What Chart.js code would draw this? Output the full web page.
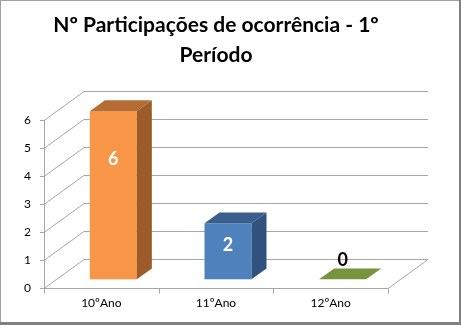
<!DOCTYPE html>
<html>
<head>
<meta charset="utf-8">
<script src="https://cdn.jsdelivr.net/npm/chart.js@4"></script>
<style>
  body { margin: 0; background: #fff; }
</style>
</head>
<body>
<canvas id="chart" width="461" height="325"></canvas>
<script>
const categories = ['10ºAno', '11ºAno', '12ºAno'];
const values = [6, 2, 0];
const yMin = 0;
const yMax = 6;
const yStep = 1;

const frontColors = ['#F79646', '#4F81BD', '#77933C'];
const topColors = ['#B66D35', '#3B5F8D', '#5F7C2E'];
const sideColors = ['#9B5B2A', '#30527C', '#4E6726'];

// depth of the 3d box (floor / walls), in px
const DX = 40;
const DY = -29;

const fakeDepth = {
    id: 'fakeDepth',
    beforeDraw(chart) {
        const ctx = chart.ctx;
        const w = chart.width, h = chart.height;
        ctx.save();
        ctx.fillStyle = '#fff';
        ctx.fillRect(0, 0, w, h);
        ctx.fillStyle = '#A0A0A0';
        ctx.fillRect(0, 0, w, 1);
        ctx.fillRect(0, 0, 1, h);
        ctx.fillStyle = '#808080';
        ctx.fillRect(w - 2, 0, 2, h);
        ctx.fillRect(0, h - 3, w, 3);
        ctx.restore();
    },
    beforeDatasetsDraw(chart) {
        const { ctx, scales: { x, y } } = chart;
        const L = x.left, R = x.right;
        const bottom = Math.round(y.getPixelForValue(yMin)) + 0.5;
        ctx.save();
        ctx.lineWidth = 1;
        ctx.strokeStyle = '#A6A6A6';
        for (let v = yMin; v <= yMax; v += yStep) {
            const py = Math.round(y.getPixelForValue(v)) + 0.5;
            ctx.beginPath();
            ctx.moveTo(L - 4, py);
            ctx.lineTo(L, py);
            ctx.lineTo(L + DX, py + DY);
            ctx.lineTo(R + DX, py + DY);
            ctx.stroke();
        }
        // front y axis
        ctx.beginPath();
        ctx.moveTo(L + 0.5, Math.round(y.getPixelForValue(yMax)));
        ctx.lineTo(L + 0.5, bottom);
        ctx.stroke();
        // floor front edge and right edge
        ctx.beginPath();
        ctx.moveTo(L, bottom);
        ctx.lineTo(R, bottom);
        ctx.lineTo(R + DX, bottom + DY);
        ctx.stroke();
        // category ticks
        const step = (R - L) / categories.length;
        for (let i = 0; i <= categories.length; i++) {
            const px = Math.round(L + step * i) + 0.5;
            ctx.beginPath();
            ctx.moveTo(px, bottom);
            ctx.lineTo(px, bottom + 5);
            ctx.stroke();
        }
        ctx.restore();
    },
    afterDatasetsDraw(chart) {
        const ctx = chart.ctx;
        const meta = chart.getDatasetMeta(0);
        const ox = DX * 0.3, oy = DY * 0.3;
        const bx = DX * 0.375, by = DY * 0.375;
        ctx.save();
        meta.data.forEach((bar, i) => {
            const x0 = bar.x - bar.width / 2 + ox;
            const x1 = bar.x + bar.width / 2 + ox;
            const top = bar.y + oy;
            const base = bar.base + oy;
            // front
            ctx.fillStyle = frontColors[i];
            ctx.fillRect(x0, top, x1 - x0, base - top);
            // side
            ctx.fillStyle = sideColors[i];
            ctx.beginPath();
            ctx.moveTo(x1, top);
            ctx.lineTo(x1 + bx, top + by);
            ctx.lineTo(x1 + bx, base + by);
            ctx.lineTo(x1, base);
            ctx.closePath();
            ctx.fill();
            // top
            ctx.fillStyle = values[i] === 0 ? frontColors[i] : topColors[i];
            ctx.beginPath();
            ctx.moveTo(x0, top);
            ctx.lineTo(x0 + bx, top + by);
            ctx.lineTo(x1 + bx, top + by);
            ctx.lineTo(x1, top);
            ctx.closePath();
            ctx.fill();

            // value label
            const h = base - top;
            ctx.font = 'bold 18px Lato';
            ctx.textAlign = 'center';
            ctx.textBaseline = 'middle';
            const cx = (x0 + x1) / 2;
            if (h > 0) {
                ctx.fillStyle = '#fff';
                ctx.fillText(String(values[i]), cx, top + Math.min(48, h * 0.4));
            } else {
                ctx.fillStyle = '#000';
                ctx.fillText(String(values[i]), cx, top - 19);
            }
        });
        ctx.restore();
    }
};

new Chart(document.getElementById('chart'), {
    type: 'bar',
    data: {
        labels: categories,
        datasets: [{
            data: values,
            backgroundColor: 'rgba(0,0,0,0)',
            borderWidth: 0,
            barPercentage: 0.41,
            categoryPercentage: 1
        }]
    },
    options: {
        responsive: false,
        animation: false,
        layout: { padding: { left: 0, right: 73, top: 0, bottom: 0 } },
        plugins: {
            legend: { display: false },
            tooltip: { enabled: false },
            title: {
                display: true,
                fullSize: false,
                text: ['Nº Participações de ocorrência - 1º', 'Período'],
                color: '#000',
                font: { family: 'Lato', size: 21, weight: 'bold', lineHeight: 1.45 },
                padding: { top: 10, bottom: 49 }
            }
        },
        scales: {
            x: {
                grid: { display: false, drawTicks: false },
                border: { display: false },
                ticks: { color: '#000', font: { family: 'Lato', size: 12 }, padding: 8 },
                afterFit(s) { s.height = 37; }
            },
            y: {
                min: yMin,
                max: yMax,
                grid: { display: false, drawTicks: false },
                border: { display: false },
                ticks: { stepSize: yStep, color: '#000', font: { family: 'Lato', size: 12 }, padding: 13 },
                afterFit(s) { s.width = 44; }
            }
        }
    },
    plugins: [fakeDepth]
});
</script>
</body>
</html>
